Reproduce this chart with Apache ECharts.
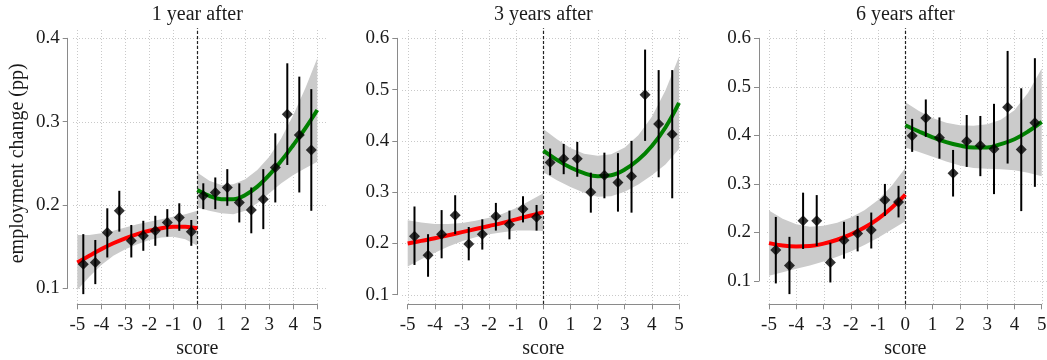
<!DOCTYPE html>
<html><head><meta charset="utf-8">
<script src="https://cdn.jsdelivr.net/npm/echarts@6/dist/echarts.min.js"></script>
<style>html,body{margin:0;padding:0;background:#fff}#c{width:1047px;height:360px}</style>
</head><body><div id="c"></div>
<script>
// ---------------- data ----------------
const panelTitles = ['1 year after', '3 years after', '6 years after'];
const yAxisTitle = 'employment change (pp)';
const xAxisTitle = 'score';
const xTicks = [-5, -4, -3, -2, -1, 0, 1, 2, 3, 4, 5];
const yTicks1 = [0.1, 0.2, 0.3, 0.4];
const yTicks2 = [0.1, 0.2, 0.3, 0.4, 0.5, 0.6];
const yTicks3 = [0.1, 0.2, 0.3, 0.4, 0.5, 0.6];

const binsLeft  = [-4.75, -4.25, -3.75, -3.25, -2.75, -2.25, -1.75, -1.25, -0.75, -0.25];
const binsRight = [0.25, 0.75, 1.25, 1.75, 2.25, 2.75, 3.25, 3.75, 4.25, 4.75];
const fitXLeft  = [-5, -4.5, -4, -3.5, -3, -2.5, -2, -1.5, -1, -0.5, 0];
const fitXRight = [0, 0.5, 1, 1.5, 2, 2.5, 3, 3.5, 4, 4.5, 5];

// panel 1: 1 year after
const p1LeftMean = [0.129, 0.131, 0.167, 0.193, 0.157, 0.163, 0.169, 0.179, 0.185, 0.168];
const p1LeftLo   = [0.093, 0.105, 0.137, 0.168, 0.137, 0.145, 0.151, 0.162, 0.169, 0.151];
const p1LeftHi   = [0.165, 0.158, 0.196, 0.217, 0.176, 0.181, 0.187, 0.195, 0.202, 0.182];
const p1RightMean = [0.211, 0.215, 0.221, 0.203, 0.194, 0.207, 0.245, 0.309, 0.284, 0.266];
const p1RightLo   = [0.195, 0.195, 0.199, 0.179, 0.166, 0.171, 0.203, 0.248, 0.215, 0.193];
const p1RightHi   = [0.226, 0.233, 0.243, 0.226, 0.221, 0.243, 0.286, 0.370, 0.354, 0.339];
const p1FitLeft   = [0.131, 0.139, 0.147, 0.154, 0.160, 0.165, 0.169, 0.172, 0.174, 0.174, 0.172];
const p1BandLeftHi = [0.164, 0.164, 0.166, 0.169, 0.173, 0.177, 0.180, 0.183, 0.186, 0.189, 0.193];
const p1BandLeftLo = [0.098, 0.114, 0.128, 0.139, 0.147, 0.153, 0.158, 0.161, 0.162, 0.159, 0.151];
const p1FitRight  = [0.218, 0.211, 0.207, 0.207, 0.212, 0.222, 0.236, 0.253, 0.272, 0.292, 0.314];
const p1BandRightHi = [0.239, 0.229, 0.224, 0.225, 0.231, 0.242, 0.258, 0.280, 0.308, 0.340, 0.376];
const p1BandRightLo = [0.197, 0.193, 0.190, 0.189, 0.193, 0.202, 0.214, 0.226, 0.236, 0.244, 0.252];

// panel 2: 3 years after
const p2LeftMean = [0.214, 0.177, 0.218, 0.255, 0.199, 0.218, 0.253, 0.237, 0.267, 0.251];
const p2LeftLo   = [0.158, 0.135, 0.171, 0.218, 0.167, 0.188, 0.225, 0.208, 0.241, 0.225];
const p2LeftHi   = [0.272, 0.218, 0.265, 0.294, 0.232, 0.247, 0.279, 0.264, 0.292, 0.275];
const p2RightMean = [0.358, 0.365, 0.365, 0.300, 0.333, 0.319, 0.331, 0.490, 0.433, 0.413];
const p2RightLo   = [0.333, 0.335, 0.330, 0.260, 0.288, 0.262, 0.260, 0.400, 0.329, 0.288];
const p2RightHi   = [0.385, 0.394, 0.398, 0.338, 0.377, 0.376, 0.400, 0.578, 0.538, 0.538];
const p2FitLeft   = [0.200, 0.205, 0.210, 0.216, 0.222, 0.228, 0.234, 0.240, 0.247, 0.254, 0.261];
const p2BandLeftHi = [0.245, 0.241, 0.238, 0.238, 0.240, 0.244, 0.250, 0.258, 0.269, 0.283, 0.298];
const p2BandLeftLo = [0.155, 0.169, 0.182, 0.194, 0.204, 0.212, 0.218, 0.222, 0.225, 0.225, 0.224];
const p2FitRight  = [0.381, 0.363, 0.348, 0.337, 0.331, 0.333, 0.344, 0.363, 0.390, 0.426, 0.474];
const p2BandRightHi = [0.423, 0.403, 0.386, 0.375, 0.371, 0.374, 0.387, 0.411, 0.447, 0.498, 0.564];
const p2BandRightLo = [0.339, 0.323, 0.310, 0.299, 0.291, 0.292, 0.301, 0.315, 0.333, 0.354, 0.384];

// panel 3: 6 years after
const p3LeftMean = [0.164, 0.132, 0.224, 0.224, 0.138, 0.184, 0.198, 0.205, 0.267, 0.263];
const p3LeftLo   = [0.095, 0.073, 0.166, 0.172, 0.097, 0.146, 0.161, 0.167, 0.234, 0.231];
const p3LeftHi   = [0.232, 0.191, 0.282, 0.277, 0.179, 0.222, 0.234, 0.241, 0.300, 0.296];
const p3RightMean = [0.399, 0.436, 0.395, 0.322, 0.388, 0.379, 0.372, 0.458, 0.371, 0.426];
const p3RightLo   = [0.366, 0.397, 0.352, 0.274, 0.335, 0.316, 0.279, 0.342, 0.244, 0.294];
const p3RightHi   = [0.434, 0.474, 0.437, 0.370, 0.442, 0.440, 0.465, 0.574, 0.497, 0.559];
const p3FitLeft   = [0.178, 0.173, 0.171, 0.172, 0.177, 0.185, 0.196, 0.210, 0.228, 0.251, 0.278];
const p3BandLeftHi = [0.245, 0.228, 0.217, 0.212, 0.214, 0.220, 0.231, 0.246, 0.267, 0.296, 0.333];
const p3BandLeftLo = [0.111, 0.118, 0.125, 0.132, 0.140, 0.150, 0.161, 0.174, 0.189, 0.206, 0.223];
const p3FitRight  = [0.421, 0.408, 0.396, 0.386, 0.379, 0.375, 0.375, 0.382, 0.392, 0.408, 0.428];
const p3BandRightHi = [0.468, 0.450, 0.436, 0.426, 0.421, 0.420, 0.423, 0.432, 0.452, 0.488, 0.538];
const p3BandRightLo = [0.375, 0.366, 0.356, 0.346, 0.338, 0.333, 0.331, 0.330, 0.328, 0.323, 0.316];

// ---------------- assembly ----------------
const panels = [
  { title: panelTitles[0], yTicks: yTicks1,
    L: { mean: p1LeftMean, lo: p1LeftLo, hi: p1LeftHi, fit: p1FitLeft, bHi: p1BandLeftHi, bLo: p1BandLeftLo },
    R: { mean: p1RightMean, lo: p1RightLo, hi: p1RightHi, fit: p1FitRight, bHi: p1BandRightHi, bLo: p1BandRightLo } },
  { title: panelTitles[1], yTicks: yTicks2,
    L: { mean: p2LeftMean, lo: p2LeftLo, hi: p2LeftHi, fit: p2FitLeft, bHi: p2BandLeftHi, bLo: p2BandLeftLo },
    R: { mean: p2RightMean, lo: p2RightLo, hi: p2RightHi, fit: p2FitRight, bHi: p2BandRightHi, bLo: p2BandRightLo } },
  { title: panelTitles[2], yTicks: yTicks3,
    L: { mean: p3LeftMean, lo: p3LeftLo, hi: p3LeftHi, fit: p3FitLeft, bHi: p3BandLeftHi, bLo: p3BandLeftLo },
    R: { mean: p3RightMean, lo: p3RightLo, hi: p3RightHi, fit: p3FitRight, bHi: p3BandRightHi, bLo: p3BandRightLo } }
];

// layout (pixels): axis box = where first/last ticks sit; plot box = plot region
const layout = [
  { axL: 77.3, axR: 317.3, axT: 38.3, axB: 288.3, yAxisX: 67.7, xAxisY: 304.3, pL: 73,  pR: 327,  pT: 28.3, pB: 304 },
  { axL: 407.7, axR: 679,  axT: 38.3, axB: 294.7, yAxisX: 397.3, xAxisY: 304.3, pL: 402, pR: 690,  pT: 28.3, pB: 304 },
  { axL: 769,  axR: 1041.7, axT: 38.3, axB: 281,  yAxisX: 759, xAxisY: 304.3, pL: 767, pR: 1052, pT: 28.3, pB: 304 }
];

const FONT = '"Liberation Serif", "Times New Roman", serif';
const TXT = '#1a1a1a';
const AXC = '#8a8a8a';

const grids = [], xAxes = [], yAxes = [], series = [], graphics = [];

panels.forEach((p, i) => {
  const lay = layout[i];
  const yMin = p.yTicks[0], yMax = p.yTicks[p.yTicks.length - 1];
  const xMin = xTicks[0], xMax = xTicks[xTicks.length - 1];
  const pxu = (lay.axR - lay.axL) / (xMax - xMin);
  const pyu = (lay.axB - lay.axT) / (yMax - yMin);
  const pxMin = xMin - (lay.axL - lay.pL) / pxu;
  const pxMax = xMax + (lay.pR - lay.axR) / pxu;
  const pyMin = yMin - (lay.pB - lay.axB) / pyu;
  const pyMax = yMax + (lay.axT - lay.pT) / pyu;

  // axis grid
  const ga = grids.length;
  grids.push({ left: lay.axL, top: lay.axT, width: lay.axR - lay.axL, height: lay.axB - lay.axT,
    containLabel: false, outerBoundsMode: 'none' });
  xAxes.push({
    type: 'value', gridIndex: ga, min: xMin, max: xMax, interval: 1,
    offset: lay.xAxisY - lay.axB,
    axisLine: { show: true, onZero: false, lineStyle: { color: AXC, width: 1 } },
    axisTick: { show: true, length: 5, lineStyle: { color: AXC, width: 1 } },
    axisLabel: { fontFamily: FONT, fontSize: 19, color: TXT, margin: 11 },
    splitLine: { show: false },
    name: xAxisTitle, nameLocation: 'middle', nameGap: 34,
    nameTextStyle: { fontFamily: FONT, fontSize: 20, color: TXT }
  });
  yAxes.push({
    type: 'value', gridIndex: ga, min: yMin, max: yMax, interval: 0.1,
    offset: lay.axL - lay.yAxisX,
    axisLine: { show: true, onZero: false, lineStyle: { color: AXC, width: 1 } },
    axisTick: { show: true, length: 5, lineStyle: { color: AXC, width: 1 } },
    axisLabel: { fontFamily: FONT, fontSize: 19, color: TXT, margin: 8, formatter: v => v.toFixed(1) },
    splitLine: { show: false },
    name: i === 0 ? yAxisTitle : '', nameLocation: 'middle', nameGap: 40, nameRotate: 90,
    nameTextStyle: { fontFamily: FONT, fontSize: 20, color: TXT }
  });

  // plot grid
  const gp = grids.length;
  grids.push({ left: lay.pL, top: lay.pT, width: lay.pR - lay.pL, height: lay.pB - lay.pT,
    containLabel: false, outerBoundsMode: 'none' });
  xAxes.push({ type: 'value', gridIndex: gp, min: pxMin, max: pxMax, show: false, splitLine: { show: false } });
  yAxes.push({ type: 'value', gridIndex: gp, min: pyMin, max: pyMax, show: false, splitLine: { show: false } });

  const ax = { xAxisIndex: gp, yAxisIndex: gp };

  // vertical grid lines
  series.push(Object.assign({
    type: 'custom', z: 1, silent: true, clip: false,
    data: xTicks.map(v => [v, yMin]), encode: { x: 0, y: 1 },
    renderItem: (params, api) => {
      const a = api.coord([api.value(0), pyMin]);
      const b = api.coord([api.value(0), pyMax]);
      return { type: 'line', shape: { x1: Math.round(a[0]) + 0.5, y1: a[1], x2: Math.round(b[0]) + 0.5, y2: b[1] },
        style: { stroke: '#c9c9c9', lineWidth: 1, lineDash: [1, 2] } };
    }
  }, ax));
  // horizontal grid lines
  series.push(Object.assign({
    type: 'custom', z: 1, silent: true, clip: false,
    data: p.yTicks.map(v => [0, v]), encode: { x: 0, y: 1 },
    renderItem: (params, api) => {
      const a = api.coord([pxMin, api.value(1)]);
      const b = api.coord([pxMax, api.value(1)]);
      return { type: 'line', shape: { x1: a[0], y1: Math.round(a[1]) + 0.5, x2: b[0], y2: Math.round(b[1]) + 0.5 },
        style: { stroke: '#c9c9c9', lineWidth: 1, lineDash: [1, 2] } };
    }
  }, ax));

  // CI bands
  [[fitXLeft, p.L], [fitXRight, p.R]].forEach(([xs, s]) => {
    series.push(Object.assign({
      type: 'custom', z: 2, silent: true, clip: false,
      data: [[xs[0], s.bLo[0]]], encode: { x: 0, y: 1 },
      renderItem: (params, api) => {
        const pts = [];
        for (let k = 0; k < xs.length; k++) pts.push(api.coord([xs[k], s.bHi[k]]));
        for (let k = xs.length - 1; k >= 0; k--) pts.push(api.coord([xs[k], s.bLo[k]]));
        return { type: 'polygon', shape: { points: pts, smooth: 0 }, style: { fill: '#cbcbcb' } };
      }
    }, ax));
  });

  // zero (cutoff) line
  series.push(Object.assign({
    type: 'custom', z: 3, silent: true, clip: false,
    data: [[0, yMin]], encode: { x: 0, y: 1 },
    renderItem: (params, api) => {
      const a = api.coord([api.value(0), pyMin]);
      const b = api.coord([api.value(0), pyMax]);
      return { type: 'line', shape: { x1: Math.round(a[0]) + 0.5, y1: a[1], x2: Math.round(b[0]) + 0.5, y2: b[1] },
        style: { stroke: '#222', lineWidth: 1.2, lineDash: [3, 2] } };
    }
  }, ax));

  // fitted lines
  series.push(Object.assign({
    type: 'line', z: 4, silent: true, smooth: 0.4, showSymbol: false, symbol: 'none',
    data: fitXLeft.map((x, k) => [x, p.L.fit[k]]),
    lineStyle: { color: '#ff0000', width: 4 }, clip: false
  }, ax));
  series.push(Object.assign({
    type: 'line', z: 4, silent: true, smooth: 0.4, showSymbol: false, symbol: 'none',
    data: fitXRight.map((x, k) => [x, p.R.fit[k]]),
    lineStyle: { color: '#008000', width: 4 }, clip: false
  }, ax));

  // error bars + points
  [[binsLeft, p.L], [binsRight, p.R]].forEach(([bins, s]) => {
    series.push(Object.assign({
      type: 'custom', z: 5, silent: true, clip: false,
      data: bins.map((x, k) => [x, s.lo[k], s.hi[k]]), encode: { x: 0, y: [1, 2] },
      renderItem: (params, api) => {
        const a = api.coord([api.value(0), api.value(1)]);
        const b = api.coord([api.value(0), api.value(2)]);
        return { type: 'line', shape: { x1: a[0], y1: a[1], x2: b[0], y2: b[1] },
          style: { stroke: '#000', lineWidth: 2 } };
      }
    }, ax));
    series.push(Object.assign({
      type: 'scatter', z: 6, silent: true, symbol: 'diamond', symbolSize: 11,
      data: bins.map((x, k) => [x, s.mean[k]]),
      itemStyle: { color: '#000' }, clip: false
    }, ax));
  });

  // panel title
  graphics.push({
    type: 'text', x: lay.axL + (0 - xMin) * pxu, y: 15, silent: true,
    style: { text: p.title, align: 'center', verticalAlign: 'middle', textAlign: 'center', textVerticalAlign: 'middle',
      font: '20px ' + FONT, fill: TXT }
  });
});

const chart = echarts.init(document.getElementById('c'), null, { renderer: 'canvas' });
chart.setOption({
  animation: false,
  backgroundColor: '#fff',
  grid: grids, xAxis: xAxes, yAxis: yAxes, series: series, graphic: graphics
});
</script>
</body></html>
